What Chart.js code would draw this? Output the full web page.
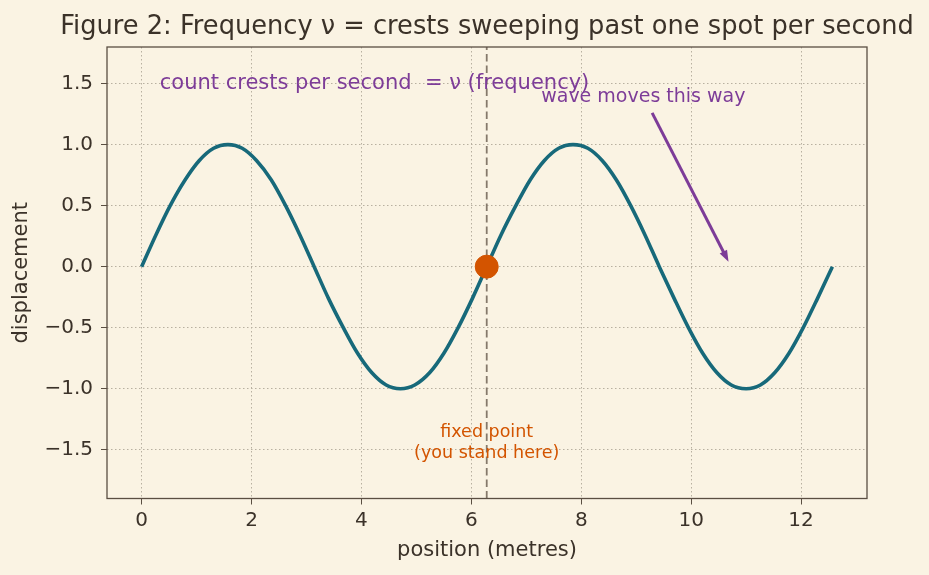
<!DOCTYPE html>
<html>
<head>
<meta charset="utf-8">
<script src="https://cdn.jsdelivr.net/npm/chart.js@4.4.1/dist/chart.umd.min.js"></script>
<style>
  html, body { margin: 0; padding: 0; background: #faf3e3; }
  #wrap { width: 929px; height: 575px; }
</style>
</head>
<body>
<div id="wrap"><canvas id="chart" width="929" height="575"></canvas></div>
<script>
// wave samples
const waveX = [0, 0.26, 0.52, 0.79, 1.05, 1.31, 1.57, 1.83, 2.09, 2.36, 2.62, 2.88, 3.14,
  3.40, 3.67, 3.93, 4.19, 4.45, 4.71, 4.97, 5.24, 5.50, 5.76, 6.02, 6.28,
  6.54, 6.81, 7.07, 7.33, 7.59, 7.85, 8.12, 8.38, 8.64, 8.90, 9.16, 9.42,
  9.69, 9.95, 10.21, 10.47, 10.73, 11.00, 11.26, 11.52, 11.78, 12.04, 12.30, 12.57];
const waveY = [0, 0.26, 0.5, 0.71, 0.87, 0.97, 1, 0.97, 0.87, 0.71, 0.5, 0.26, 0,
  -0.26, -0.5, -0.71, -0.87, -0.97, -1, -0.97, -0.87, -0.71, -0.5, -0.26, 0,
  0.26, 0.5, 0.71, 0.87, 0.97, 1, 0.97, 0.87, 0.71, 0.5, 0.26, 0,
  -0.26, -0.5, -0.71, -0.87, -0.97, -1, -0.97, -0.87, -0.71, -0.5, -0.26, 0];

const fixedX = 6.28;           // where you stand
const fixedY = 0;
const xLimits = [-0.63, 13.2];
const yLimits = [-1.9, 1.8];
const xTicks = [0, 2, 4, 6, 8, 10, 12];
const yTicks = [-1.5, -1.0, -0.5, 0.0, 0.5, 1.0, 1.5];
const arrowFrom = [9.29, 1.26];
const arrowTo = [10.68, 0.04];

const FONT = "'DejaVu Sans', sans-serif";
const INK = "#3b3229";
const PURPLE = "#7d3c98";
const ORANGE = "#d35400";

const wavePoints = waveX.map((x, i) => ({ x: x, y: waveY[i] }));

const decorations = {
  id: "decorations",
  beforeDraw(chart) {
    const ctx = chart.ctx;
    ctx.save();
    ctx.fillStyle = "#faf3e3";
    ctx.fillRect(0, 0, chart.width, chart.height);
    ctx.restore();
  },
  afterDraw(chart) {
    const ctx = chart.ctx;
    const a = chart.chartArea;
    const xs = chart.scales.x, ys = chart.scales.y;
    ctx.save();

    // frame on all four sides
    ctx.strokeStyle = "#5a4e42";
    ctx.lineWidth = 1.3;
    ctx.strokeRect(a.left, a.top, a.right - a.left, a.bottom - a.top);

    // title
    ctx.fillStyle = INK;
    ctx.font = "25.7px " + FONT;
    ctx.textAlign = "center";
    ctx.textBaseline = "alphabetic";
    ctx.fillText("Figure 2: Frequency \u03BD = crests sweeping past one spot per second", (a.left + a.right) / 2, 34);

    // annotations
    ctx.fillStyle = PURPLE;
    ctx.font = "21px " + FONT;
    ctx.textAlign = "left";
    ctx.textBaseline = "middle";
    ctx.fillText("count crests per second  = \u03BD (frequency)", xs.getPixelForValue(0.33), ys.getPixelForValue(1.5));

    ctx.font = "19px " + FONT;
    ctx.textAlign = "center";
    ctx.fillText("wave moves this way", xs.getPixelForValue(9.13), ys.getPixelForValue(1.39));

    // arrow
    const x1 = xs.getPixelForValue(arrowFrom[0]), y1 = ys.getPixelForValue(arrowFrom[1]);
    const x2 = xs.getPixelForValue(arrowTo[0]), y2 = ys.getPixelForValue(arrowTo[1]);
    const ang = Math.atan2(y2 - y1, x2 - x1);
    const head = 12;
    ctx.strokeStyle = PURPLE;
    ctx.lineWidth = 3;
    ctx.beginPath();
    ctx.moveTo(x1, y1);
    ctx.lineTo(x2 - Math.cos(ang) * head * 0.8, y2 - Math.sin(ang) * head * 0.8);
    ctx.stroke();
    ctx.beginPath();
    ctx.moveTo(x2, y2);
    ctx.lineTo(x2 - head * Math.cos(ang - 0.35), y2 - head * Math.sin(ang - 0.35));
    ctx.lineTo(x2 - head * Math.cos(ang + 0.35), y2 - head * Math.sin(ang + 0.35));
    ctx.closePath();
    ctx.fill();

    ctx.fillStyle = ORANGE;
    ctx.font = "17.5px " + FONT;
    ctx.fillText("fixed point", xs.getPixelForValue(fixedX), ys.getPixelForValue(-1.36));
    ctx.fillText("(you stand here)", xs.getPixelForValue(fixedX), ys.getPixelForValue(-1.53));

    ctx.restore();
  }
};

const gridOpts = {
  color: "#b8b0a0",
  tickColor: "#5a4e42",
  tickLength: 6,
  tickBorderDash: [],
  lineWidth: 1,
};

new Chart(document.getElementById("chart"), {
  type: "scatter",
  data: {
    datasets: [
      {
        // dashed marker line
        type: "line",
        data: [{ x: fixedX, y: yLimits[0] }, { x: fixedX, y: yLimits[1] }],
        borderColor: "#85796b",
        borderWidth: 1.8,
        borderDash: [7.5, 4],
        pointRadius: 0,
        order: 3,
      },
      {
        type: "line",
        data: wavePoints,
        borderColor: "#17697a",
        borderWidth: 3.6,
        pointRadius: 0,
        cubicInterpolationMode: "monotone",
        order: 2,
      },
      {
        data: [{ x: fixedX, y: fixedY }],
        backgroundColor: ORANGE,
        borderColor: ORANGE,
        pointRadius: 11.5,
        order: 1,
      },
    ],
  },
  options: {
    responsive: false,
    animation: false,
    layout: { padding: { left: 0, right: 62, top: 47, bottom: 0 } },
    plugins: {
      legend: { display: false },
      tooltip: { enabled: false },
    },
    scales: {
      x: {
        type: "linear",
        min: xLimits[0],
        max: xLimits[1],
        afterBuildTicks: (s) => { s.ticks = xTicks.map((v) => ({ value: v })); },
        afterFit: (s) => { s.height = 76.5; },
        ticks: { color: INK, font: { family: FONT, size: 20 }, padding: 4, maxRotation: 0 },
        grid: gridOpts,
        border: { display: false, dash: [1.5, 2.5] },
        title: { display: true, text: "position (metres)", color: INK, font: { family: FONT, size: 21 }, padding: 12 },
      },
      y: {
        type: "linear",
        min: yLimits[0],
        max: yLimits[1],
        afterBuildTicks: (s) => { s.ticks = yTicks.map((v) => ({ value: v })); },
        afterFit: (s) => { s.width = 107; },
        ticks: {
          color: INK,
          font: { family: FONT, size: 20 },
          padding: 8,
          callback: (v) => (v < 0 ? "\u2212" + Math.abs(v).toFixed(1) : v.toFixed(1)),
        },
        grid: gridOpts,
        border: { display: false, dash: [1.5, 2.5] },
        title: { display: true, text: "displacement", color: INK, font: { family: FONT, size: 21 }, padding: 9 },
      },
    },
  },
  plugins: [decorations],
});
</script>
</body>
</html>
